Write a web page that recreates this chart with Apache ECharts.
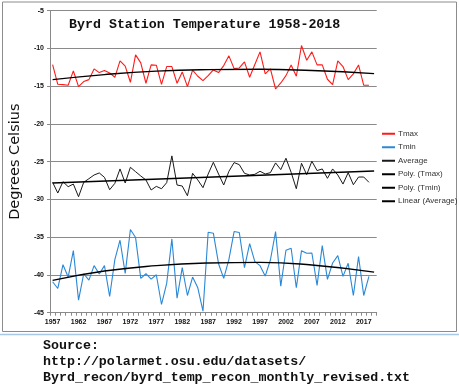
<!DOCTYPE html>
<html>
<head>
<meta charset="utf-8">
<script src="https://cdn.jsdelivr.net/npm/echarts@6/dist/echarts.min.js"></script>
<style>html,body{margin:0;padding:0;background:#fff;}#c{width:459px;height:391px;}</style>
</head>
<body>
<div id="c"></div>
<script>
const years = [1957,1958,1959,1960,1961,1962,1963,1964,1965,1966,1967,1968,1969,1970,1971,1972,1973,1974,1975,1976,1977,1978,1979,1980,1981,1982,1983,1984,1985,1986,1987,1988,1989,1990,1991,1992,1993,1994,1995,1996,1997,1998,1999,2000,2001,2002,2003,2004,2005,2006,2007,2008,2009,2010,2011,2012,2013,2014,2015,2016,2017,2018];
const tmax = [-12.13,-14.75,-14.79,-14.88,-12.97,-15.06,-14.39,-14.13,-12.71,-13.20,-12.93,-13.24,-13.82,-11.65,-12.35,-14.48,-10.85,-11.91,-14.61,-12.18,-12.22,-14.75,-12.40,-12.40,-14.61,-13.11,-15.06,-12.88,-13.68,-14.26,-13.60,-12.84,-13.20,-12.27,-10.98,-12.67,-12.58,-11.78,-13.82,-12.13,-10.45,-13.37,-12.71,-15.37,-14.57,-13.60,-12.18,-13.68,-9.61,-11.56,-10.45,-12.18,-12.18,-14.08,-14.79,-11.65,-12.40,-14.13,-13.37,-12.18,-14.88,-14.88];
const tmin = [-40.90,-41.79,-38.64,-40.28,-36.78,-43.34,-39.84,-40.68,-38.77,-39.88,-38.77,-42.85,-37.97,-35.40,-39.79,-33.98,-35.05,-40.46,-39.84,-40.55,-39.97,-43.91,-41.12,-35.23,-43.07,-39.04,-42.72,-40.28,-41.70,-44.80,-34.34,-34.47,-38.51,-40.46,-37.93,-34.25,-34.38,-39.04,-35.85,-38.24,-38.77,-40.15,-38.02,-34.25,-41.48,-36.73,-36.47,-41.70,-36.78,-37.13,-37.09,-41.39,-36.11,-40.59,-38.42,-37.44,-40.19,-38.46,-42.72,-37.58,-42.72,-40.19];
const average = [-27.73,-29.15,-27.65,-28.31,-27.96,-29.64,-27.73,-27.25,-26.76,-26.49,-27.07,-28.71,-27.87,-25.96,-27.82,-25.74,-26.32,-26.89,-27.42,-28.75,-28.27,-28.58,-27.78,-24.23,-28.09,-28.22,-29.51,-26.54,-27.42,-28.44,-26.63,-25.08,-26.63,-28.09,-26.27,-25.12,-25.39,-26.54,-26.76,-26.67,-26.27,-26.63,-26.45,-25.16,-26.05,-24.54,-26.41,-28.58,-25.21,-26.72,-24.94,-26.18,-25.96,-27.20,-25.96,-26.76,-27.96,-26.45,-28.05,-27.03,-27.03,-27.73];
const polyTmaxYears = [1957,1967,1977,1987,1997,2007,2019];
const polyTmaxVals = [-14.13,-13.46,-13.00,-12.80,-12.75,-12.93,-13.33];
const polyTminYears = [1957,1967,1977,1987,1997,2007,2019];
const polyTminVals = [-40.72,-39.48,-38.77,-38.42,-38.33,-38.69,-39.62];
const linearAvgYears = [1957,2019];
const linearAvgVals = [-27.82,-26.23];
const xLabelYears = [1957,1962,1967,1972,1977,1982,1987,1992,1997,2002,2007,2012,2017];
const seriesNames = ['Tmax','Tmin','Average','Poly. (Tmax)','Poly. (Tmin)','Linear (Average)'];
const sourceLines = ['Source:','http://polarmet.osu.edu/datasets/','Byrd_recon/byrd_temp_recon_monthly_revised.txt'];

const pair = (xs, ys) => xs.map((x, i) => [x, ys[i]]);
const tickPos = [];
for (let v = 1956.5; v <= 2019.5; v += 1) tickPos.push(v);

const chart = echarts.init(document.getElementById('c'), null, {renderer: 'canvas'});
const gray = '#8a8a8a';
const mono = '"Liberation Mono", "Courier New", monospace';

chart.setOption({
  animation: false,
  backgroundColor: '#fff',
  title: {
    text: 'Byrd Station Temperature 1958-2018',
    left: 69, top: 18, padding: 0,
    textStyle: {fontFamily: mono, fontWeight: 'bold', fontSize: 13.3, color: '#111'}
  },
  grid: {left: 33, top: 10.7, right: 82.3, bottom: 78.3, containLabel: false},
  legend: {
    orient: 'vertical', left: 382, top: 129, padding: 0,
    itemWidth: 13, itemHeight: 2, itemGap: 4, icon: 'rect',
    data: seriesNames,
    textStyle: {fontFamily: 'Liberation Sans, Arial', fontSize: 8, lineHeight: 9.5, color: '#333', padding: [0,0,0,-2]}
  },
  xAxis: {
    type: 'value', min: 1956.5, max: 2019.5,
    splitLine: {show: false},
    axisLine: {lineStyle: {color: gray, width: 1}},
    axisTick: {show: true, length: 3, lineStyle: {color: gray}, customValues: tickPos},
    axisLabel: {customValues: xLabelYears, fontSize: 7, fontWeight: 'bold', color: '#111',
      fontFamily: 'Liberation Sans, Arial', margin: 6, formatter: v => String(v)}
  },
  yAxis: {
    type: 'value', min: -45, max: -5, interval: 5,
    name: 'Degrees Celsius', nameLocation: 'middle', nameGap: 18, nameRotate: 90,
    nameTextStyle: {fontFamily: 'DejaVu Sans', fontSize: 14.5, color: '#111', backgroundColor: '#fff', padding: [0, 2]},
    axisLine: {show: true, lineStyle: {color: gray, width: 1}},
    axisTick: {show: true, length: 3, lineStyle: {color: gray}},
    splitLine: {lineStyle: {color: gray, width: 1}},
    axisLabel: {fontSize: 7, fontWeight: 'bold', color: '#111', fontFamily: 'Liberation Sans, Arial', margin: 6}
  },
  graphic: [
    {type: 'rect', shape: {x: 2.5, y: 2, width: 454, height: 329.5}, style: {fill: null, stroke: '#8c8c8c', lineWidth: 1}, z: -10, silent: true},
    {type: 'line', shape: {x1: 0, y1: 334.5, x2: 459, y2: 334.5}, style: {stroke: '#a8c8e8', lineWidth: 1.5}, silent: true},
    ...sourceLines.map((t, i) => ({
      type: 'text', left: 43, top: 339 + i * 16, silent: true,
      style: {text: t, fontFamily: mono, fontWeight: 'bold', fontSize: 13.3, fill: '#111'}
    }))
  ],
  series: [
    {name: 'Tmax', type: 'line', data: pair(years, tmax), showSymbol: false, color: '#ff1a1a', lineStyle: {width: 1.1, color: '#ff1a1a'}, z: 2},
    {name: 'Tmin', type: 'line', data: pair(years, tmin), showSymbol: false, color: '#2a88d6', lineStyle: {width: 1.1, color: '#2a88d6'}, z: 2},
    {name: 'Average', type: 'line', data: pair(years, average), showSymbol: false, color: '#1a1a1a', lineStyle: {width: 1, color: '#1a1a1a'}, z: 2},
    {name: 'Poly. (Tmax)', type: 'line', data: pair(polyTmaxYears, polyTmaxVals), smooth: true, showSymbol: false, color: '#000', lineStyle: {width: 1.4, color: '#000'}, z: 3},
    {name: 'Poly. (Tmin)', type: 'line', data: pair(polyTminYears, polyTminVals), smooth: true, showSymbol: false, color: '#000', lineStyle: {width: 1.4, color: '#000'}, z: 3},
    {name: 'Linear (Average)', type: 'line', data: pair(linearAvgYears, linearAvgVals), showSymbol: false, color: '#000', lineStyle: {width: 1.4, color: '#000'}, z: 3}
  ]
});
</script>
</body>
</html>
